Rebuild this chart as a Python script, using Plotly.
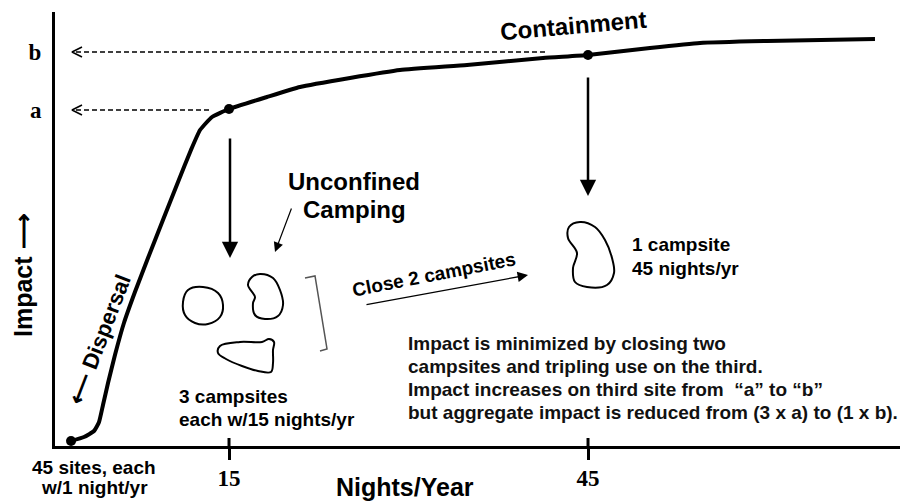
import plotly.graph_objects as go

# ---------------- data ----------------
nights = [1.8, 2.88, 3.72, 4.14, 4.47, 4.89, 5.47, 6.22, 7.14, 8.23, 9.48, 10.74, 11.82,
          12.58, 13.58, 15.0, 18.17, 20.93, 25.11, 29.29, 34.89, 41.24, 45.0, 50.18,
          54.36, 59.96, 68.98]
impact = [1.25, 2.25, 3.75, 6.0, 10.25, 15.75, 22.75, 30.75, 38.5, 47.0, 56.5, 66.0, 74.0,
          79.0, 82.25, 84.25, 87.25, 89.75, 92.0, 94.0, 95.25, 97.0, 97.75, 99.5,
          100.75, 101.25, 101.75]
key_nights = [15, 45]
key_impact = [84.25, 97.75]
start_nights = [1.8]
start_impact = [1.25]
tick_vals = [15, 45]
tick_text = ["15", "45"]
level_names = ["a", "b"]
level_values = [84.0, 98.5]

# ---------------- layout helpers (pixel -> axis / paper units) ----------------
W, H = 904, 502
ML, MR, MT, MB = 55, 4, 12, 56
PX_X0, PX_PER_X = 49.5, 11.967
PX_Y0, PX_PER_Y = 446.0, 4.0


def X(px):
    return (px - PX_X0) / PX_PER_X


def Y(py):
    return (PX_Y0 - py) / PX_PER_Y


def PX(px):
    return (px - ML) / (W - ML - MR)


def PY(py):
    return (H - MB - py) / (H - MT - MB)


SANS = "Liberation Sans"
SERIF = "Liberation Serif"

fig = go.Figure()

# main curve
fig.add_trace(go.Scatter(x=nights, y=impact, mode="lines",
                         line=dict(color="black", width=4, shape="spline", smoothing=0.4),
                         hoverinfo="skip", showlegend=False))
# key points
fig.add_trace(go.Scatter(x=key_nights + start_nights, y=key_impact + start_impact, mode="markers",
                         marker=dict(color="black", size=10), hoverinfo="skip", showlegend=False,
                         cliponaxis=False))

# dashed leader lines with open arrowheads toward the y axis
dash_end_px = [210, 545]
for lv, endpx in zip(level_values, dash_end_px):
    fig.add_trace(go.Scatter(x=[X(76), X(endpx)], y=[lv, lv], mode="lines",
                             line=dict(color="black", width=1.6, dash="5px,3px"),
                             hoverinfo="skip", showlegend=False))
    fig.add_trace(go.Scatter(x=[X(82), X(72), X(82)], y=[lv + 5 / PX_PER_Y, lv, lv - 5 / PX_PER_Y],
                             mode="lines", line=dict(color="black", width=1.6),
                             hoverinfo="skip", showlegend=False))

# campsite outlines (pixel sketches)
blobs_px = [
    [(188, 290), (203, 287), (218, 293), (223, 305), (220, 317), (208, 324), (195, 323),
     (185, 315), (183, 302), (188, 290)],
    [(260, 274), (273, 278), (280, 290), (283, 305), (278, 316), (265, 319), (255, 315),
     (253, 303), (255, 297), (248, 285), (252, 277), (260, 274)],
    [(220, 346), (240, 342), (262, 342), (269, 339), (274, 342), (273, 350), (273, 363),
     (271, 372), (258, 371), (242, 366), (226, 359), (218, 353), (220, 346)],
    [(580, 222), (595, 227), (605, 240), (612, 258), (614, 273), (607, 285), (587, 287),
     (575, 282), (573, 268), (577, 253), (568, 238), (569, 227), (580, 222)],
]
for b in blobs_px:
    fig.add_trace(go.Scatter(x=[X(p[0]) for p in b], y=[Y(p[1]) for p in b], mode="lines",
                             line=dict(color="black", width=2, shape="spline", smoothing=1.0),
                             hoverinfo="skip", showlegend=False))

# bracket
br = [(305, 278), (315, 276), (327, 349), (320, 351)]
fig.add_trace(go.Scatter(x=[X(p[0]) for p in br], y=[Y(p[1]) for p in br], mode="lines",
                         line=dict(color="#555555", width=1.5),
                         hoverinfo="skip", showlegend=False))

# inner part of tick marks (crossing the axis)
shapes = []
for tv in tick_vals:
    shapes.append(dict(type="line", xref="x", yref="y", x0=tv, x1=tv, y0=0, y1=Y(438),
                       line=dict(color="black", width=3)))

annotations = []


def arrow(tail, tip, width, size):
    annotations.append(dict(x=X(tip[0]), y=Y(tip[1]), ax=X(tail[0]), ay=Y(tail[1]),
                            xref="x", yref="y", axref="x", ayref="y", text="",
                            showarrow=True, arrowhead=2, arrowwidth=width, arrowsize=size,
                            arrowcolor="black", standoff=0))


arrow((230, 137), (230, 258), 2.5, 1.3)
arrow((588, 76), (588, 196), 2.5, 1.3)
arrow((292, 207), (275, 252), 1.2, 1.6)
arrow((365, 305), (528, 275), 1.3, 1.6)


def label(txt, px, py, size, xanchor="center", angle=0, family=SANS, color="black"):
    annotations.append(dict(x=PX(px), y=PY(py), xref="paper", yref="paper", text=txt,
                            showarrow=False, xanchor=xanchor, yanchor="middle",
                            textangle=angle,
                            font=dict(family=family, size=size, color=color, weight="bold")))


label("Containment", 573, 25, 24, angle=-5)
label("Unconfined", 354, 181, 24)
label("Camping", 354, 209, 24)
label("Close 2 campsites", 434, 274, 19, angle=-11)
label("1 campsite", 630, 244, 19, xanchor="left")
label("45 nights/yr", 630, 268, 19, xanchor="left")
label("3 campsites", 177, 396, 19, xanchor="left")
label("each w/15 nights/yr", 177, 419, 19, xanchor="left")
label("45 sites, each", 94, 467, 19)
label("w/1 night/yr", 94, 487, 19)
para = ["Impact is minimized by closing two",
        "campsites and tripling use on the third.",
        "Impact increases on third site from  \u201ca\u201d to \u201cb\u201d",
        "but aggregate impact is reduced from (3 x a) to (1 x b)."]
for txt, py in zip(para, [343, 366, 389, 412]):
    label(txt, 406, py, 19, xanchor="left", color="#111111")
label("Nights/Year", 405, 487, 25)
label("Impact \u27f6", 23, 275, 25, angle=-90)
label("\u27f5 Dispersal", 99, 340, 22, angle=-69)

fig.update_layout(
    width=W, height=H,
    margin=dict(l=ML, r=MR, t=MT, b=MB),
    paper_bgcolor="white", plot_bgcolor="white",
    showlegend=False,
    shapes=shapes, annotations=annotations,
    xaxis=dict(range=[X(ML), X(W - MR)], showgrid=False, zeroline=False,
               showline=True, linecolor="black", linewidth=3,
               tickmode="array", tickvals=tick_vals, ticktext=tick_text,
               ticks="outside", ticklen=11, tickwidth=3, tickcolor="black",
               ticklabelstandoff=-2,
               tickfont=dict(family=SERIF, size=23, color="black", weight="bold")),
    yaxis=dict(range=[0, Y(MT)], showgrid=False, zeroline=False,
               showline=True, linecolor="black", linewidth=3,
               tickmode="array", tickvals=level_values, ticktext=level_names,
               ticks="", ticklabelstandoff=6,
               tickfont=dict(family=SERIF, size=23, color="black", weight="bold")),
)

fig.write_html("out.html", config={"displayModeBar": False},
               post_script="document.body.style.margin='0';")
